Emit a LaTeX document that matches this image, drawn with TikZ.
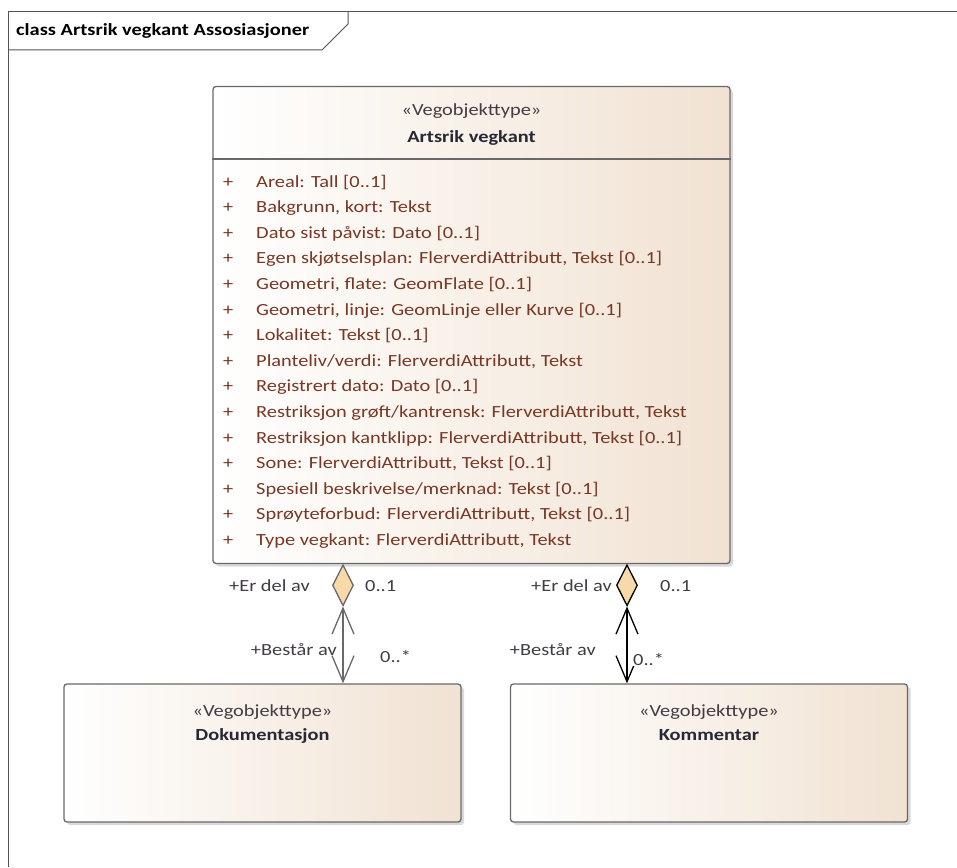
\documentclass[tikz,border=0pt]{standalone}
\usepackage{fontspec}
\setmainfont{Carlito}[FakeStretch=1.2]
\usetikzlibrary{shapes.geometric,arrows.meta,shadows,positioning}
\newcommand{\umlfont}{\fontsize{17}{20}\selectfont}
\definecolor{umlbrun}{RGB}{120,56,36}
\definecolor{umlgraa}{RGB}{66,60,68}
\definecolor{umlnavn}{RGB}{40,40,52}
\definecolor{umltan}{RGB}{241,226,210}
\definecolor{umlkant}{RGB}{105,105,105}
\definecolor{umlfyll}{RGB}{248,218,170}
\tikzset{
  klasse/.style={draw=umlkant,line width=1.3pt,rounded corners=3pt,left color=white,right color=umltan,
    drop shadow={shadow xshift=3pt,shadow yshift=-3pt,opacity=0.3},inner sep=0pt},
  aggr/.style={diamond,draw,line width=1.3pt,fill=umlfyll,minimum width=21pt,minimum height=41pt,inner sep=0pt,anchor=north},
  navi/.style={line width=1.3pt,{Straight Barb[length=26pt,width=22pt]}-{Straight Barb[length=26pt,width=22pt]}},
  rolle/.style={text=umlgraa,inner sep=0pt},
  stereo/.style={anchor=base,text=umlgraa},
  navn/.style={anchor=base,text=umlnavn,font=\umlfont\bfseries}
}
\begin{document}
\begin{tikzpicture}[x={(1pt,0)},y={(0,-1pt)},font=\umlfont]
\useasboundingbox (0,0) rectangle (957,867);
\draw[umlnavn!80,line width=1pt] (8,867) -- (8,12) -- (957,12);
\draw[umlnavn!80,line width=1pt] (8,50) -- (322,50) -- (348,24) -- (348,12);
\node[anchor=base west,font=\umlfont\bfseries,text=black,inner sep=0pt] (tittel) at (16,36) {class Artsrik vegkant Assosiasjoner};
\node[klasse,minimum width=517pt,minimum height=477pt] (artsrik) at (471.5,325) {};
\node[klasse,minimum width=397pt,minimum height=138pt] (dok) at (262.5,753) {};
\node[klasse,minimum width=397pt,minimum height=138pt] (kom) at (709,753) {};
\draw[umlkant,line width=1.3pt] (artsrik.west |- 0,159) -- (artsrik.east |- 0,159);
\node[stereo] (stereoA) at (artsrik.north |- 0,115) {«Vegobjekttype»};
\node[navn] (navnA) at (artsrik.north |- 0,142) {Artsrik vegkant};
\node[stereo] (stereoD) at (dok.north |- 0,716) {«Vegobjekttype»};
\node[navn] (navnD) at (dok.north |- 0,740) {Dokumentasjon};
\node[stereo] (stereoK) at (kom.north |- 0,716) {«Vegobjekttype»};
\node[navn] (navnK) at (kom.north |- 0,740) {Kommentar};
\foreach [count=\i] \a in {Areal: Tall [0..1],{Bakgrunn, kort: Tekst},Dato sist påvist: Dato [0..1],
  {Egen skjøtselsplan: FlerverdiAttributt, Tekst [0..1]},{Geometri, flate: GeomFlate [0..1]},
  {Geometri, linje: GeomLinje eller Kurve [0..1]},Lokalitet: Tekst [0..1],
  {Planteliv/verdi: FlerverdiAttributt, Tekst},Registrert dato: Dato [0..1],
  {Restriksjon grøft/kantrensk: FlerverdiAttributt, Tekst},{Restriksjon kantklipp: FlerverdiAttributt, Tekst [0..1]},
  {Sone: FlerverdiAttributt, Tekst [0..1]},Spesiell beskrivelse/merknad: Tekst [0..1],
  {Sprøyteforbud: FlerverdiAttributt, Tekst [0..1]},{Type vegkant: FlerverdiAttributt, Tekst}}
{\node[anchor=base west,text=umlbrun,inner sep=0pt] (pluss\i) at (223,{187+25.6*(\i-1)}) {+};
 \node[anchor=base west,text=umlbrun,inner sep=0pt] (attr\i) at (256,{187+25.6*(\i-1)}) {\a};}
\node[aggr,draw=umlkant] (delD) at (artsrik.south -| 343,0) {};
\node[aggr,draw=black] (delK) at (artsrik.south -| 627,0) {};
\draw[navi,umlkant] (delD.south) -- (dok.north -| delD.south);
\draw[navi,black] (delK.south) -- (kom.north -| delK.south);
\node[rolle,anchor=base east] (erD) at (310,591) {+Er del av};
\node[rolle,anchor=base west] (minD) at (365,591) {0..1};
\node[rolle,anchor=base east] (bestD) at (337,655) {+Består av};
\node[rolle,anchor=base west] (maksD) at (380,662) {0..*};
\node[rolle,anchor=base east] (erK) at (612,591) {+Er del av};
\node[rolle,anchor=base west] (minK) at (660,591) {0..1};
\node[rolle,anchor=base east] (bestK) at (596,655) {+Består av};
\node[rolle,anchor=base west,fill=white,inner sep=1pt] (maksK) at (632,665) {0..*};
\end{tikzpicture}
\end{document}
